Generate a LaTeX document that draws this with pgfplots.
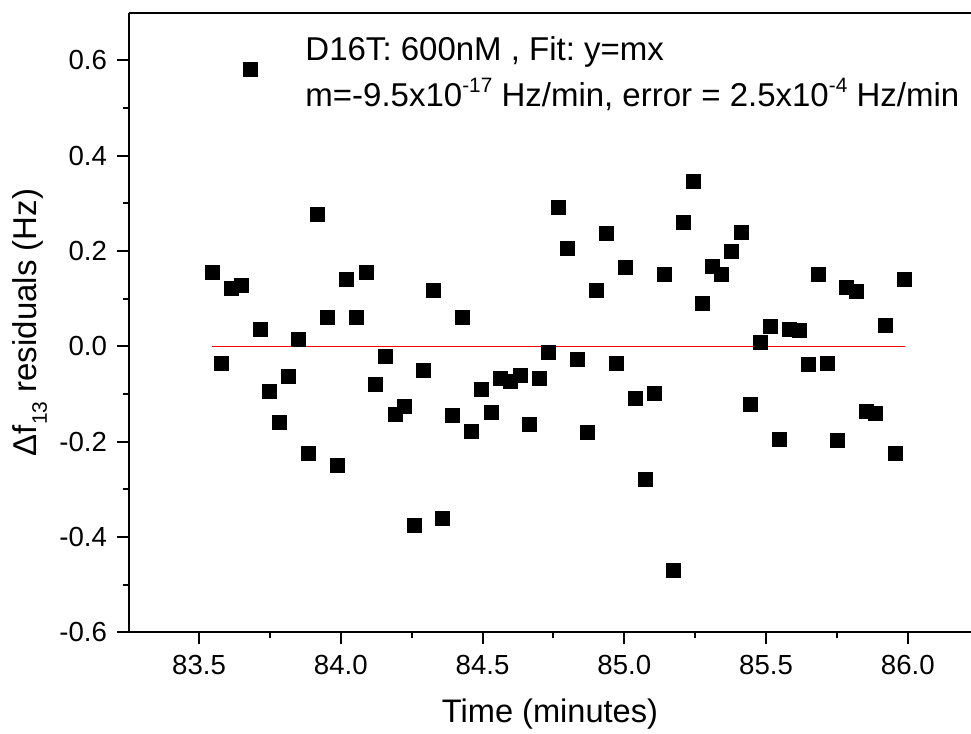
\documentclass[border=0pt]{standalone}
\usepackage{pgfplots}
\pgfplotsset{compat=1.18}
\usepackage{fontspec}
\setmainfont{Liberation Sans}
\frenchspacing
\newcommand\sups[1]{\raisebox{0.42em}{\fontsize{10.4}{11}\selectfont #1}}
\newcommand\subs[1]{\raisebox{-0.3em}{\fontsize{10.5}{11}\selectfont #1}}
\pgfplotstableread{
x y
83.546 0.156
83.580 -0.035
83.614 0.122
83.648 0.127
83.682 0.581
83.716 0.036
83.750 -0.095
83.784 -0.160
83.817 -0.063
83.851 0.015
83.885 -0.225
83.919 0.277
83.953 0.060
83.987 -0.250
84.021 0.141
84.055 0.060
84.089 0.155
84.123 -0.080
84.157 -0.021
84.191 -0.142
84.225 -0.125
84.259 -0.375
84.292 -0.050
84.326 0.117
84.360 -0.360
84.394 -0.145
84.428 0.061
84.462 -0.179
84.496 -0.090
84.530 -0.138
84.564 -0.067
84.598 -0.073
84.632 -0.061
84.666 -0.164
84.700 -0.068
84.734 -0.013
84.767 0.291
84.801 0.206
84.835 -0.027
84.869 -0.181
84.903 0.117
84.937 0.237
84.971 -0.036
85.005 0.166
85.039 -0.109
85.073 -0.280
85.107 -0.098
85.141 0.151
85.175 -0.470
85.209 0.261
85.243 0.347
85.276 0.090
85.310 0.168
85.344 0.151
85.378 0.200
85.412 0.238
85.446 -0.121
85.480 0.008
85.514 0.042
85.548 -0.195
85.582 0.036
85.616 0.033
85.650 -0.038
85.684 0.151
85.718 -0.036
85.751 -0.197
85.785 0.123
85.819 0.116
85.853 -0.136
85.887 -0.140
85.921 0.043
85.955 -0.225
85.989 0.141
}\residuals
\begin{document}
\begin{tikzpicture}
\begin{axis}[
  scale only axis,
  width=421pt, height=309.8pt,
  xmin=83.253, xmax=86.223,
  ymin=-0.6, ymax=0.7,
  axis x line=box, axis y line=left,
  axis line style={line width=1pt, -},
  xtick={83.5,84.0,...,86.0},
  ytick={-0.6,-0.4,...,0.6},
  minor x tick num=1, minor y tick num=1,
  xtick pos=bottom, ytick pos=left,
  tick align=outside,
  major tick length=6pt, minor tick length=3pt,
  every tick/.style={line width=1pt, black},
  tick label style={font=\fontsize{13.8}{16}\selectfont},
  /pgf/number format/assume math mode=true,
  xticklabel style={yshift=-2pt, /pgf/number format/.cd, fixed, fixed zerofill, precision=1},
  yticklabel style={xshift=-1.5pt, /pgf/number format/.cd, fixed, fixed zerofill, precision=1},
  xlabel={Time (minutes)},
  ylabel={Δf\subs{13} residuals (Hz)},
  xlabel style={font=\fontsize{16.3}{19}\selectfont, at={(rel axis cs:0.5,0)}, anchor=center, yshift=-41pt},
  ylabel style={font=\fontsize{16.5}{19}\selectfont, at={(rel axis cs:0,0.5)}, anchor=center, rotate=0, yshift=49.5pt},
  clip=false,
]
\addplot[only marks, mark=square*, mark size=3.5pt, black] table[x=x, y=y] {\residuals};
\addplot[red, line width=0.6pt] coordinates {(83.546,0) (85.989,0)};
\node[anchor=base west, inner sep=0pt, font=\fontsize{16.5}{19}\selectfont] at (axis cs:83.874,0.6006) {D16T: 600nM , Fit: y=mx};
\node[anchor=base west, inner sep=0pt, font=\fontsize{16.5}{19}\selectfont] at (axis cs:83.874,0.504) {m=-9.5x10\sups{-17} Hz/min, error = 2.5x10\sups{-4} Hz/min};
\coordinate (bl) at (rel axis cs:0,0);
\coordinate (tr) at (rel axis cs:1,1);
\end{axis}
\pgfresetboundingbox
\path[use as bounding box] ([shift={(-64.5pt,-50.85pt)}]bl) rectangle ([shift={(0pt,6.35pt)}]tr);
\end{tikzpicture}
\end{document}
